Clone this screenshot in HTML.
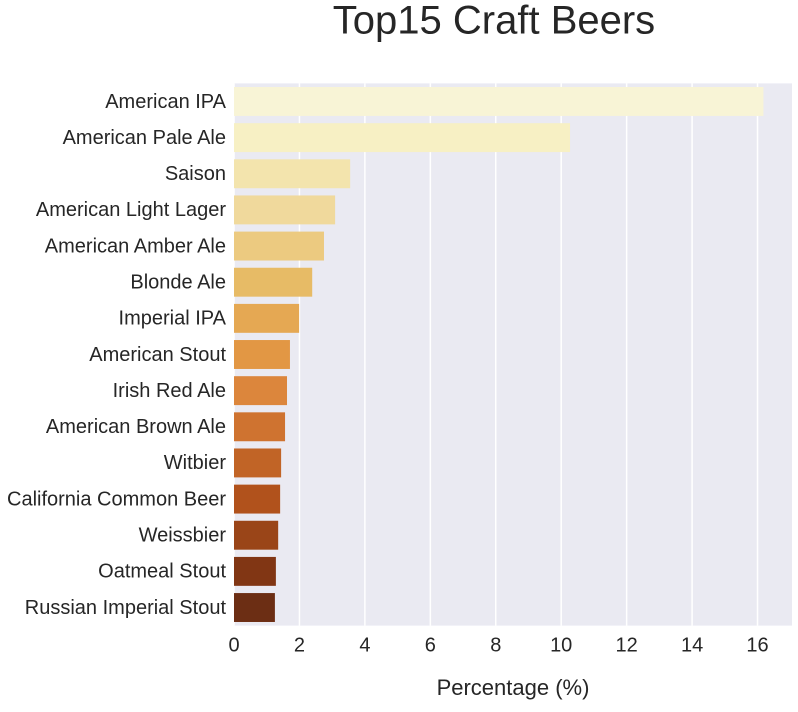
<!DOCTYPE html>
<html><head><meta charset="utf-8"><style>
body{margin:0;background:#fff;font-family:"Liberation Sans",sans-serif;}
</style></head><body>
<svg id="chart" width="798" height="707" xmlns="http://www.w3.org/2000/svg">
<text x="494" y="23" font-size="40" text-anchor="middle" dominant-baseline="middle" fill="#262626">Top15 Craft Beers</text>
<rect x="234" y="83.4" width="558" height="542.2" fill="#eaeaf2"/>
<g id="grid"></g><g id="bars"></g><g id="ylabels"></g><g id="xticks"></g>
<text x="513" y="689" font-size="22" text-anchor="middle" dominant-baseline="middle" fill="#262626">Percentage (%)</text>
</svg>
<script>
const categories=["American IPA","American Pale Ale","Saison","American Light Lager","American Amber Ale","Blonde Ale","Imperial IPA","American Stout","Irish Red Ale","American Brown Ale","Witbier","California Common Beer","Weissbier","Oatmeal Stout","Russian Imperial Stout"];
const values=[16.18,10.27,3.55,3.09,2.75,2.39,1.99,1.71,1.62,1.56,1.44,1.41,1.35,1.28,1.25];
const colors=["#f8f4d6","#f7f0c4","#f3e4ad","#f0d99c","#ecca80","#e7bb66","#e5a853","#e29744","#dc863c","#cf7330","#c16426","#b1521c","#9a4518","#813614","#6c2e14"];
const xTicks=[0,2,4,6,8,10,12,14,16];
const NS="http://www.w3.org/2000/svg";
const x0=234,unit=32.72,plotTop=83.4,row=542.2/15;
const X=v=>x0+v*unit, Y=i=>plotTop+i*row;
function mk(t,a,p){const e=document.createElementNS(NS,t);for(const k in a)e.setAttribute(k,a[k]);document.getElementById(p).appendChild(e);return e;}
xTicks.forEach(t=>{
  const l=mk("line",{x1:X(t),x2:X(t),y1:83.4,y2:625.6,stroke:"#fff","stroke-width":1.5},"grid");
  
  
  const tx=mk("text",{x:X(t),y:646,"font-size":20,"text-anchor":"middle","dominant-baseline":"middle",fill:"#262626"},"xticks");
  tx.textContent=t;
  
  
});
categories.forEach((c,i)=>{
  const r=mk("rect",{x:X(0),y:Y(i)+0.1*row,width:X(values[i])-X(0),height:0.8*row,fill:colors[i]},"bars");
  
  
  const t=mk("text",{x:226,y:Y(i)+row/2+1,"font-size":20,"text-anchor":"end","dominant-baseline":"middle",fill:"#262626"},"ylabels");
  t.textContent=c;
  
  
});
</script>
</body></html>
